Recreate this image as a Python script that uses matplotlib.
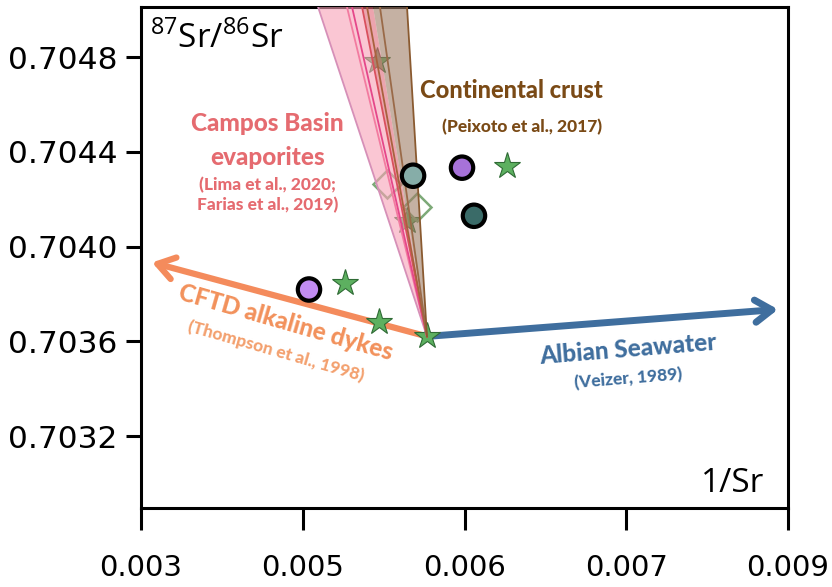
import matplotlib
matplotlib.use("Agg")
import matplotlib.pyplot as plt

plt.rcParams["mathtext.fontset"] = "custom"
plt.rcParams["mathtext.rm"] = "Open Sans"

# Axis ranges and ticks
XLIM = (0.003, 0.009)
YLIM = (0.702897, 0.705011)
x_ticks = [0.003, 0.0045, 0.006, 0.0075, 0.009]
x_tick_labels = ["0.003", "0.005", "0.006", "0.007", "0.009"]
y_ticks = [0.7032, 0.7036, 0.7040, 0.7044, 0.7048]
y_tick_labels = ["0.7032", "0.7036", "0.7040", "0.7044", "0.7048"]

# Common mixing point and end-member directions
mix_x, mix_y = 0.005652, 0.703621
dyke_end_x, dyke_end_y = 0.003102, 0.703933
seawater_end_x, seawater_end_y = 0.008908, 0.703735

# Mixing fans (upper ends at top of the plot)
evap_wedge_x = [0.004642, 0.005050]
evap_core_wedge_x = [0.005050, 0.005152]
crust_wedge_x = [0.005152, 0.005467]
fan_line_x = [0.004642, 0.004910, 0.004957, 0.005050, 0.005096, 0.005216, 0.005467]
fan_line_colors = ["#D690B8", "#F27BA0", "#E5478A", "#D9505E", "#A8623E", "#9A6A48", "#8A5A30"]

# Samples
star_x = [0.005189, 0.006394, 0.005467, 0.004892, 0.005207, 0.005652]
star_y = [0.704783, 0.704341, 0.704109, 0.703848, 0.703680, 0.703621]
circle_x = [0.004558, 0.005977, 0.005523, 0.006088]
circle_y = [0.703819, 0.704333, 0.704299, 0.704130]
circle_colors = ["#C28CF2", "#A772D9", "#86ADA8", "#3A6B68"]
diamond_x = [0.005281, 0.005560]
diamond_y = [0.704265, 0.704168]

fig = plt.figure(figsize=(8.32, 5.87), dpi=100)
ax = fig.add_axes([141 / 832, 1 - 508 / 587, 647 / 832, 501 / 587])
ax.set_xlim(*XLIM)
ax.set_ylim(*YLIM)

ytop = YLIM[1]

# Arrows
ax.annotate("", xy=(dyke_end_x, dyke_end_y), xytext=(mix_x, mix_y),
            arrowprops=dict(arrowstyle="->,head_length=1.2,head_width=0.8",
                            lw=4.5, color="#F48B5C", shrinkA=0, shrinkB=0),
            zorder=1)
ax.annotate("", xy=(seawater_end_x, seawater_end_y), xytext=(mix_x, mix_y),
            arrowprops=dict(arrowstyle="->,head_length=1.2,head_width=0.8",
                            lw=5, color="#3F6E9E", shrinkA=0, shrinkB=0),
            zorder=1)

# Stars and diamonds (below the translucent fans)
ax.plot(star_x, star_y, linestyle="none", marker="*", markersize=20,
        markerfacecolor="#5DB060", markeredgecolor="#2F6B35", markeredgewidth=0.8,
        zorder=2)
ax.plot(diamond_x, diamond_y, linestyle="none", marker="D", markersize=14,
        markerfacecolor="none", markeredgecolor="#7DAA78", markeredgewidth=1.8,
        zorder=2)

# Fans
for (xl, xr), fc, a in [(evap_wedge_x, "#F7A1B6", 0.6),
                        (evap_core_wedge_x, "#E06878", 0.6),
                        (crust_wedge_x, "#9F7D66", 0.6)]:
    ax.fill([mix_x, xl, xr], [mix_y, ytop, ytop], color=fc, alpha=a,
            linewidth=0, zorder=3)
for x, c in zip(fan_line_x, fan_line_colors):
    ax.plot([mix_x, x], [mix_y, ytop], color=c, lw=1.3, zorder=3)

# Circles
ax.scatter(circle_x, circle_y, s=260, c=circle_colors, edgecolors="black",
           linewidths=3, zorder=5)

# Spines and ticks
for s in ax.spines.values():
    s.set_linewidth(2.2)
ax.set_xticks(x_ticks)
ax.set_xticklabels(x_tick_labels)
ax.set_yticks(y_ticks)
ax.set_yticklabels(y_tick_labels)
ax.tick_params(axis="x", length=16, width=2.2, pad=17, labelsize=21)
ax.tick_params(axis="y", length=11, width=2.2, pad=6, labelsize=22.5)

# Axis captions inside the frame
ax.text(0.014, 0.918, r"$^{\mathrm{87}}$Sr/$^{\mathrm{86}}$Sr", transform=ax.transAxes,
        fontsize=24, family="Open Sans", ha="left", va="baseline")
ax.text(0.964, 0.032, "1/Sr", transform=ax.transAxes,
        fontsize=24, family="Open Sans", ha="right", va="baseline")

bold = dict(family="Lato", fontweight="black", ha="center", va="center",
            transform=ax.transAxes, rotation_mode="anchor")

ax.text(0.572, 0.834, "Continental crust", fontsize=17, color="#7A4A16", **bold)
ax.text(0.589, 0.760, "(Peixoto et al., 2017)", fontsize=12.5, color="#7A4A16", **bold)

ax.text(0.196, 0.768, "Campos Basin", fontsize=17.5, color="#E56B70", **bold)
ax.text(0.196, 0.699, "evaporites", fontsize=17.5, color="#E56B70", **bold)
ax.text(0.196, 0.645, "(Lima et al., 2020;", fontsize=12.5, color="#E56B70", **bold)
ax.text(0.196, 0.605, "Farias et al., 2019)", fontsize=12.5, color="#E56B70", **bold)

ax.text(0.223, 0.371, "CFTD alkaline dykes", fontsize=17.5, color="#F2915B", rotation=-16, **bold)
ax.text(0.209, 0.313, "(Thompson et al., 1998)", fontsize=12.5, color="#F3A06E", rotation=-16, **bold)

ax.text(0.753, 0.317, "Albian Seawater", fontsize=17.5, color="#3F6E9E", rotation=4.6, **bold)
ax.text(0.753, 0.259, "(Veizer, 1989)", fontsize=12.5, color="#3F6E9E", rotation=4.6, **bold)

fig.savefig("out.png", dpi=100)
